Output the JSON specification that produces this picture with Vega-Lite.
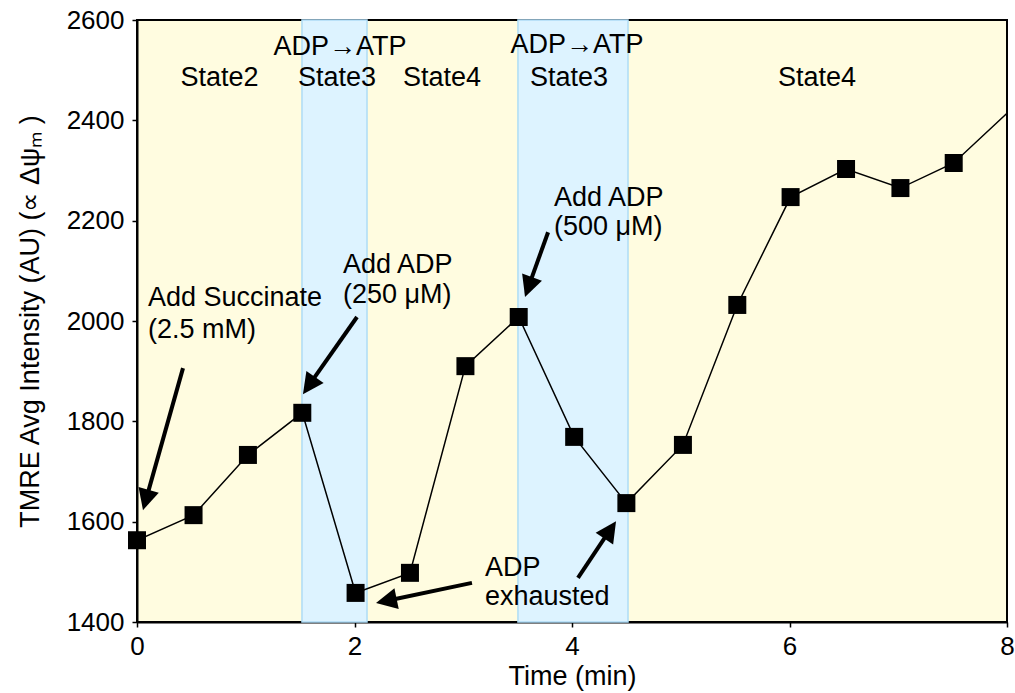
{
  "$schema": "https://vega.github.io/schema/vega-lite/v6.json",
  "width": 870,
  "height": 602,
  "autosize": {"type": "none"},
  "padding": {"left": 137, "top": 20, "right": 8, "bottom": 71},
  "config": {
    "font": "Liberation Sans",
    "view": {"fill": "#FFFCE0", "stroke": "#000000", "strokeWidth": 2},
    "axis": {
      "grid": false,
      "domainColor": "#000000",
      "domainWidth": 2,
      "tickColor": "#000000",
      "tickSize": 5,
      "tickWidth": 1.5,
      "labelColor": "#000000",
      "labelFontSize": 26,
      "labelFont": "Liberation Sans",
      "labelFlush": false,
      "labelOverlap": false,
      "format": "d",
      "titleColor": "#000000",
      "titleFontSize": 27,
      "titleFont": "Liberation Sans",
      "titleFontWeight": "normal"
    }
  },
  "datasets": {
    "series": [
      {"t": 0.0, "v": 1563},
      {"t": 0.52, "v": 1613},
      {"t": 1.02, "v": 1733},
      {"t": 1.52, "v": 1817},
      {"t": 2.01, "v": 1458},
      {"t": 2.51, "v": 1498},
      {"t": 3.02, "v": 1910},
      {"t": 3.51, "v": 2008},
      {"t": 4.02, "v": 1769},
      {"t": 4.5, "v": 1637},
      {"t": 5.02, "v": 1753},
      {"t": 5.52, "v": 2032},
      {"t": 6.01, "v": 2247},
      {"t": 6.52, "v": 2303},
      {"t": 7.02, "v": 2265},
      {"t": 7.51, "v": 2315},
      {"t": 8.0, "v": 2414}
    ],
    "bands": [
      {"start": 1.517, "end": 2.115},
      {"start": 3.503, "end": 4.515}
    ],
    "arrows": [
      {"xa": 0.423, "ya": 1906, "xb": 0.080, "yb": 1642, "xt": 0.055, "yt": 1623, "ang": 195.7},
      {"xa": 2.023, "ya": 2008, "xb": 1.579, "yb": 1871, "xt": 1.526, "yt": 1854, "ang": 215},
      {"xa": 3.78, "ya": 2177, "xb": 3.598, "yb": 2067, "xt": 3.568, "yt": 2048, "ang": 199.5},
      {"xa": 3.08, "ya": 1478, "xb": 2.288, "yb": 1442, "xt": 2.198, "yt": 1438, "ang": 258.2},
      {"xa": 4.055, "ya": 1488, "xb": 4.354, "yb": 1585, "xt": 4.405, "yt": 1601, "ang": 33.7}
    ],
    "notes": [
      {"x": 0.101, "y": 2046, "label": "Add Succinate"},
      {"x": 0.101, "y": 1982, "label": "(2.5 mM)"},
      {"x": 1.894, "y": 2112, "label": "Add ADP"},
      {"x": 1.894, "y": 2052, "label": "(250 μM)"},
      {"x": 3.834, "y": 2245, "label": "Add ADP"},
      {"x": 3.834, "y": 2187, "label": "(500 μM)"},
      {"x": 3.2, "y": 1508, "label": "ADP"},
      {"x": 3.2, "y": 1450, "label": "exhausted"}
    ],
    "states": [
      {"x": 0.758, "y": 2484, "label": "State2"},
      {"x": 1.867, "y": 2546, "label": "ADP→ATP"},
      {"x": 1.839, "y": 2484, "label": "State3"},
      {"x": 2.805, "y": 2484, "label": "State4"},
      {"x": 4.046, "y": 2550, "label": "ADP→ATP"},
      {"x": 3.972, "y": 2484, "label": "State3"},
      {"x": 6.253, "y": 2484, "label": "State4"}
    ]
  },
  "layer": [
    {
      "data": {"name": "bands"},
      "mark": {"type": "rect", "fill": "#DDF3FF", "stroke": "#AEDCF6", "strokeWidth": 1.5},
      "encoding": {
        "x": {"field": "start", "type": "quantitative", "scale": {"domain": [0, 8]},
              "axis": {"title": "Time (min)", "values": [0, 2, 4, 6, 8], "labelPadding": 6, "titlePadding": 4}},
        "x2": {"field": "end"}
      }
    },
    {
      "data": {"name": "series"},
      "mark": {"type": "line", "color": "#000000", "strokeWidth": 1.5, "clip": true},
      "encoding": {
        "x": {"field": "t", "type": "quantitative", "scale": {"domain": [0, 8]}},
        "y": {"field": "v", "type": "quantitative", "scale": {"domain": [1400, 2600]},
              "axis": {"title": "TMRE Avg Intensity (AU) (∝ Δψₘ )", "values": [1400, 1600, 1800, 2000, 2200, 2400, 2600], "labelPadding": 8, "titlePadding": 22}}
      }
    },
    {
      "data": {"name": "series"},
      "transform": [{"filter": "datum.t < 7.9"}],
      "mark": {"type": "point", "shape": "square", "filled": true, "color": "#000000", "size": 324, "opacity": 1},
      "encoding": {
        "x": {"field": "t", "type": "quantitative"},
        "y": {"field": "v", "type": "quantitative"}
      }
    },
    {
      "data": {"name": "arrows"},
      "mark": {"type": "rule", "color": "#000000", "strokeWidth": 4},
      "encoding": {
        "x": {"field": "xa", "type": "quantitative"},
        "y": {"field": "ya", "type": "quantitative"},
        "x2": {"field": "xb"},
        "y2": {"field": "yb"}
      }
    },
    {
      "data": {"name": "arrows"},
      "mark": {"type": "point", "shape": "M0,0L-0.5,1L0.5,1Z", "filled": true, "color": "#000000", "size": 1764, "opacity": 1},
      "encoding": {
        "x": {"field": "xt", "type": "quantitative"},
        "y": {"field": "yt", "type": "quantitative"},
        "angle": {"field": "ang", "type": "quantitative", "scale": null}
      }
    },
    {
      "data": {"name": "notes"},
      "mark": {"type": "text", "align": "left", "baseline": "middle", "fontSize": 27, "color": "#000000"},
      "encoding": {
        "x": {"field": "x", "type": "quantitative"},
        "y": {"field": "y", "type": "quantitative"},
        "text": {"field": "label"}
      }
    },
    {
      "data": {"name": "states"},
      "mark": {"type": "text", "align": "center", "baseline": "middle", "fontSize": 27, "color": "#000000"},
      "encoding": {
        "x": {"field": "x", "type": "quantitative"},
        "y": {"field": "y", "type": "quantitative"},
        "text": {"field": "label"}
      }
    }
  ]
}
